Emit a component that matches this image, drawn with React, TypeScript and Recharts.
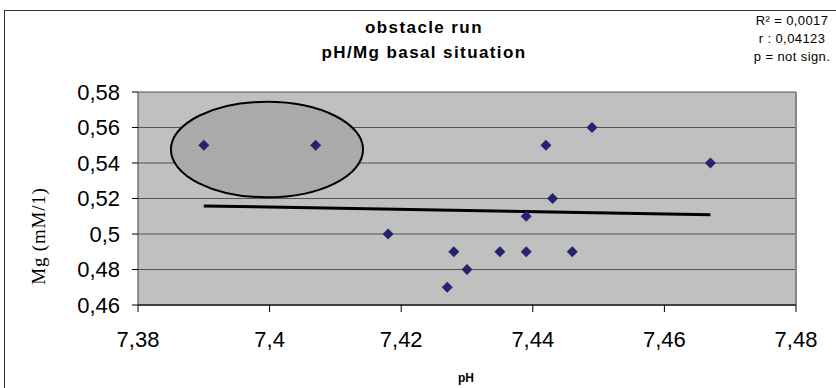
import React from 'react';
import {
  ScatterChart,
  Scatter,
  XAxis,
  YAxis,
  CartesianGrid,
  ReferenceArea,
  ReferenceLine,
  Customized,
} from 'recharts';

// pH values (x) and Mg values (y)
const phValues = [7.39, 7.407, 7.418, 7.427, 7.428, 7.43, 7.435, 7.439, 7.439, 7.442, 7.443, 7.446, 7.449, 7.467];
const mgValues = [0.55, 0.55, 0.5, 0.47, 0.49, 0.48, 0.49, 0.49, 0.51, 0.55, 0.52, 0.49, 0.56, 0.54];

const xTicks = [7.38, 7.4, 7.42, 7.44, 7.46, 7.48];
const yTicks = [0.46, 0.48, 0.5, 0.52, 0.54, 0.56, 0.58];

// trend line end points
const trendStart = { x: 7.39, y: 0.5158 };
const trendEnd = { x: 7.467, y: 0.5109 };

// highlighted ellipse bounds
const ellipseX = [7.385, 7.4142];
const ellipseY = [0.5207, 0.5745];

const titleLines = ['obstacle run', 'pH/Mg basal situation'];
const statLines = ['R\u00B2 = 0,0017', 'r : 0,04123', 'p = not sign.'];
const xLabel = 'pH';
const yLabel = 'Mg (mM/1)';

const data = phValues.map((x, i) => ({ x, y: mgValues[i] }));

const fmt = (v: number) => String(v).replace('.', ',');
const SANS = '"Liberation Sans", Arial, sans-serif';
const SERIF = '"Liberation Serif", "Times New Roman", serif';

const Diamond = (props: any) => {
  const { cx, cy } = props;
  const r = 5.5;
  return (
    <polygon
      points={`${cx},${cy - r} ${cx + r},${cy} ${cx},${cy + r} ${cx - r},${cy}`}
      fill="#25256f"
    />
  );
};

const EllipseShape = (props: any) => {
  const { x, y, width, height } = props;
  return (
    <g>
      <defs>
        <pattern id="dots" width="2" height="2" patternUnits="userSpaceOnUse">
          <rect x="0" y="0" width="2" height="2" fill="#b2b2b2" />
          <rect x="0" y="0" width="1" height="1" fill="#a2a2a2" />
          <rect x="1" y="1" width="1" height="1" fill="#a2a2a2" />
        </pattern>
      </defs>
      <ellipse
        cx={x + width / 2}
        cy={y + height / 2}
        rx={width / 2}
        ry={height / 2}
        fill="url(#dots)"
        stroke="#000"
        strokeWidth={2}
      />
    </g>
  );
};

const Texts = () => (
  <g>
    {titleLines.map((t, i) => (
      <text
        key={t}
        x={424}
        y={33 + i * 25}
        textAnchor="middle"
        fontFamily={SANS}
        fontWeight="bold"
        fontSize={17}
        letterSpacing={1.4}
        fill="#000"
      >
        {t}
      </text>
    ))}
    {statLines.map((t, i) => (
      <text
        key={t}
        x={792}
        y={24.5 + i * 18}
        textAnchor="middle"
        fontFamily={SANS}
        fontSize={13}
        letterSpacing={0.4}
        fill="#000"
      >
        {t}
      </text>
    ))}
    <text
      x={0}
      y={0}
      transform="translate(45,236) rotate(-90)"
      textAnchor="middle"
      fontFamily={SERIF}
      fontSize={19}
      letterSpacing={0.8}
      fill="#000"
    >
      {yLabel}
    </text>
    <text
      x={466}
      y={382}
      textAnchor="middle"
      fontFamily={SANS}
      fontWeight="bold"
      fontSize={12}
      fill="#000"
    >
      {xLabel}
    </text>
  </g>
);

export default function App() {
  return (
    <div
      style={{
        position: 'absolute',
        left: 0,
        top: 0,
        width: 836,
        height: 388,
        overflow: 'hidden',
        background: '#fff',
      }}
    >
      <div
        style={{
          position: 'absolute',
          left: 4,
          top: 10,
          width: 900,
          height: 500,
          border: '1px solid #333',
        }}
      />
      <div style={{ position: 'absolute', left: 0, top: 0 }}>
        <ScatterChart
          width={836}
          height={388}
          margin={{ top: 92, right: 40, left: 0, bottom: 0 }}
        >
          <CartesianGrid
            vertical={false}
            horizontal
            fill="#c0c0c0"
            fillOpacity={1}
            stroke="#555"
            strokeWidth={1}
          />
          <XAxis
            type="number"
            dataKey="x"
            domain={[7.38, 7.48]}
            ticks={xTicks}
            tickFormatter={fmt}
            height={83}
            tickSize={7}
            tickMargin={19}
            axisLine={{ stroke: '#404040', strokeWidth: 2 }}
            tickLine={{ stroke: '#000' }}
            tick={{ fontSize: 22, fill: '#000', fontFamily: SANS }}
            interval={0}
            allowDataOverflow
          />
          <YAxis
            type="number"
            dataKey="y"
            domain={[0.46, 0.58]}
            ticks={yTicks}
            tickFormatter={fmt}
            width={138}
            tickSize={6}
            tickMargin={12}
            axisLine={{ stroke: '#404040' }}
            tickLine={{ stroke: '#000' }}
            tick={{ fontSize: 22, fill: '#000', fontFamily: SANS }}
            interval={0}
            allowDataOverflow
          />
          <ReferenceLine x={7.48} stroke="#888" strokeWidth={2} />
          <ReferenceArea
            x1={ellipseX[0]}
            x2={ellipseX[1]}
            y1={ellipseY[0]}
            y2={ellipseY[1]}
            shape={EllipseShape}
          />
          <Scatter data={data} shape={Diamond} isAnimationActive={false} />
          <ReferenceLine
            segment={[trendStart, trendEnd]}
            stroke="#000"
            strokeWidth={3}
          />
          <Customized component={Texts} />
        </ScatterChart>
      </div>
    </div>
  );
}
